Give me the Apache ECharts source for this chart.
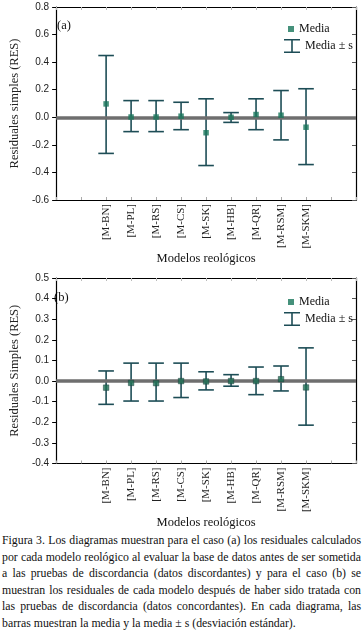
<!DOCTYPE html>
<html>
<head>
<meta charset="utf-8">
<script src="https://cdn.jsdelivr.net/npm/echarts@6/dist/echarts.min.js"></script>
<style>
  html, body { margin: 0; padding: 0; background: #fff; }
  #main { position: absolute; left: 0; top: 0; width: 363px; height: 530px; }
  #caption {
    position: absolute; left: 2px; top: 532px; width: 359px;
    font-family: "Liberation Serif", "DejaVu Serif", serif;
    font-size: 11.8px; line-height: 16.6px; color: #111;
    text-align: justify;
  }
</style>
</head>
<body>
<div id="main"></div>
<div id="caption">Figura 3. Los diagramas muestran para el caso (a) los residuales calculados por cada modelo reológico al evaluar la base de datos antes de ser sometida a las pruebas de discordancia (datos discordantes) y para el caso (b) se muestran los residuales de cada modelo después de haber sido tratada con las pruebas de discordancia (datos concordantes). En cada diagrama, las barras muestran la media y la media ± s (desviación estándar).</div>
<script>
// modelos reologicos
var categories = ['[M-BN]', '[M-PL]', '[M-RS]', '[M-CS]', '[M-SK]', '[M-HB]', '[M-QR]', '[M-RSM]', '[M-SKM]'];

// (a) datos discordantes
var meanA = [0.097, 0.002, 0.002, 0.008, -0.112, 0.0, 0.02, 0.015, -0.072];
var lowA  = [-0.262, -0.104, -0.104, -0.09, -0.35, -0.037, -0.09, -0.164, -0.343];
var highA = [0.448, 0.121, 0.121, 0.109, 0.134, 0.034, 0.134, 0.194, 0.207];

// (b) datos concordantes
var meanB = [-0.032, -0.009, -0.01, 0.0, -0.002, 0.0, 0.0, 0.009, -0.031];
var lowB  = [-0.113, -0.097, -0.097, -0.08, -0.043, -0.025, -0.066, -0.048, -0.214];
var highB = [0.049, 0.087, 0.087, 0.087, 0.045, 0.031, 0.068, 0.073, 0.161];

var ticksA = { min: -0.6, max: 0.8, interval: 0.2 };
var ticksB = { min: -0.4, max: 0.5, interval: 0.1 };

var serif = '"Liberation Serif", "DejaVu Serif", serif';
var sans = '"Liberation Sans", Arial, sans-serif';
var barColor = '#1d4d56';
var markColor = '#17765a';

var chart = echarts.init(document.getElementById('main'));

function pointsOf(mean) {
  return mean.map(function (v, i) { return [i + 2, v]; });
}
function barsOf(low, high) {
  return low.map(function (v, i) { return [i + 2, v, high[i]]; });
}

function renderBar(params, api) {
  var x = api.value(0);
  var lo = api.coord([x, api.value(1)]);
  var hi = api.coord([x, api.value(2)]);
  var w = 7.8;
  var st = { stroke: barColor, lineWidth: 1.6 };
  return {
    type: 'group',
    children: [
      { type: 'line', shape: { x1: hi[0], y1: hi[1], x2: lo[0], y2: lo[1] }, style: st },
      { type: 'line', shape: { x1: hi[0] - w, y1: hi[1], x2: hi[0] + w, y2: hi[1] }, style: st },
      { type: 'line', shape: { x1: lo[0] - w, y1: lo[1], x2: lo[0] + w, y2: lo[1] }, style: st }
    ]
  };
}

// bottom axis (labels) + top axis (frame, inner ticks)
function xAxesOf(gi) {
  return [{
    type: 'value', gridIndex: gi, position: 'bottom', min: 0, max: 12, interval: 1,
    name: 'Modelos reológicos', nameLocation: 'middle', nameGap: 46,
    nameTextStyle: { fontFamily: serif, fontSize: 12.5, color: '#111' },
    axisLine: { onZero: false, lineStyle: { color: '#000', width: 1.2 } },
    axisTick: { inside: true, length: 3, lineStyle: { color: '#aaa' } },
    splitLine: { show: false },
    axisLabel: {
      rotate: 90, margin: 4, fontFamily: serif, fontSize: 11, color: '#222',
      formatter: function (v) { return (v >= 2 && v <= 10) ? categories[v - 2] : ''; }
    }
  }, {
    type: 'value', gridIndex: gi, position: 'top', min: 0, max: 12, interval: 1,
    axisLine: { show: true, onZero: false, lineStyle: { color: '#000', width: 1.2 } },
    axisTick: { show: true, inside: true, length: 3, lineStyle: { color: '#bbb' } },
    axisLabel: { show: false }, splitLine: { show: false }
  }];
}

// left axis (labels) + right axis (frame, inner ticks)
function yAxesOf(gi, t, name, gap) {
  return [{
    type: 'value', gridIndex: gi, position: 'left', min: t.min, max: t.max, interval: t.interval,
    name: name, nameLocation: 'middle', nameGap: gap, nameRotate: 90,
    nameTextStyle: { fontFamily: serif, fontSize: 12.5, color: '#222' },
    axisLine: { show: true, onZero: false, lineStyle: { color: '#000', width: 1.2 } },
    axisTick: { length: 4, lineStyle: { color: '#000' } },
    splitLine: { show: false },
    axisLabel: {
      margin: 7, fontFamily: sans, fontSize: 10, color: '#222',
      formatter: function (v) { return v.toFixed(1); }
    }
  }, {
    type: 'value', gridIndex: gi, position: 'right', min: t.min, max: t.max, interval: t.interval,
    axisLine: { show: true, onZero: false, lineStyle: { color: '#000', width: 1.2 } },
    axisTick: { show: true, inside: true, length: 4, lineStyle: { color: '#555' } },
    axisLabel: { show: false }, splitLine: { show: false }
  }];
}

function legends(top1, top2) {
  return [{
    data: ['Media'], orient: 'vertical', left: 283, top: top1,
    itemWidth: 6, itemHeight: 6, icon: 'rect',
    textStyle: { fontFamily: serif, fontSize: 12, color: '#111' }
  }, {
    data: [{ name: 'Media ± s', icon: 'path://M0,0h16v1.6h-7.2v10.8h7.2v1.6h-16v-1.6h7.2v-10.8h-7.2z' }],
    orient: 'vertical', left: 279, top: top2,
    itemWidth: 16, itemHeight: 14,
    textStyle: { fontFamily: serif, fontSize: 12, color: '#111' }
  }];
}

function zeroLine() {
  return {
    silent: true, symbol: 'none', label: { show: false },
    lineStyle: { color: '#6e6e6e', width: 3.5, type: 'solid' },
    data: [{ yAxis: 0 }]
  };
}

var xa = xAxesOf(0), xb = xAxesOf(1);
var ya = yAxesOf(0, ticksA, 'Residuales simples (RES)', 33);
var yb = yAxesOf(1, ticksB, 'Residuales Simples (RES)', 30);

var option = {
  animation: false,
  grid: [
    { left: 47.5, top: 7, width: 308.5, height: 193 },
    { left: 43, top: 278, width: 313, height: 197 }
  ],
  xAxis: [xa[0], xa[1], xb[0], xb[1]],
  yAxis: [ya[0], ya[1], yb[0], yb[1]],
  legend: legends(18, 34).concat(legends(291, 307)),
  graphic: [
    { type: 'text', left: 57, top: 19, style: { text: '(a)', font: '12.5px ' + serif, fill: '#111' } },
    { type: 'text', left: 54, top: 291, style: { text: '(b)', font: '12.5px ' + serif, fill: '#111' } }
  ],
  series: [
    {
      name: 'Media ± s', type: 'custom', xAxisIndex: 0, yAxisIndex: 0,
      itemStyle: { color: barColor }, renderItem: renderBar,
      data: barsOf(lowA, highA), z: 2,
      markLine: zeroLine()
    },
    {
      name: 'Media', type: 'scatter', xAxisIndex: 1, yAxisIndex: 1,
      symbol: 'rect', symbolSize: 5.5, itemStyle: { color: markColor },
      data: pointsOf(meanA), z: 5
    },
    {
      name: 'Media ± s', type: 'custom', xAxisIndex: 2, yAxisIndex: 2,
      itemStyle: { color: barColor }, renderItem: renderBar,
      data: barsOf(lowB, highB), z: 2,
      markLine: zeroLine()
    },
    {
      name: 'Media', type: 'scatter', xAxisIndex: 3, yAxisIndex: 3,
      symbol: 'rect', symbolSize: 5.5,
      itemStyle: { color: '#1a6e52', borderColor: '#1c3d3a', borderWidth: 0.6 },
      data: pointsOf(meanB), z: 5
    }
  ]
};

chart.setOption(option);
</script>
</body>
</html>
